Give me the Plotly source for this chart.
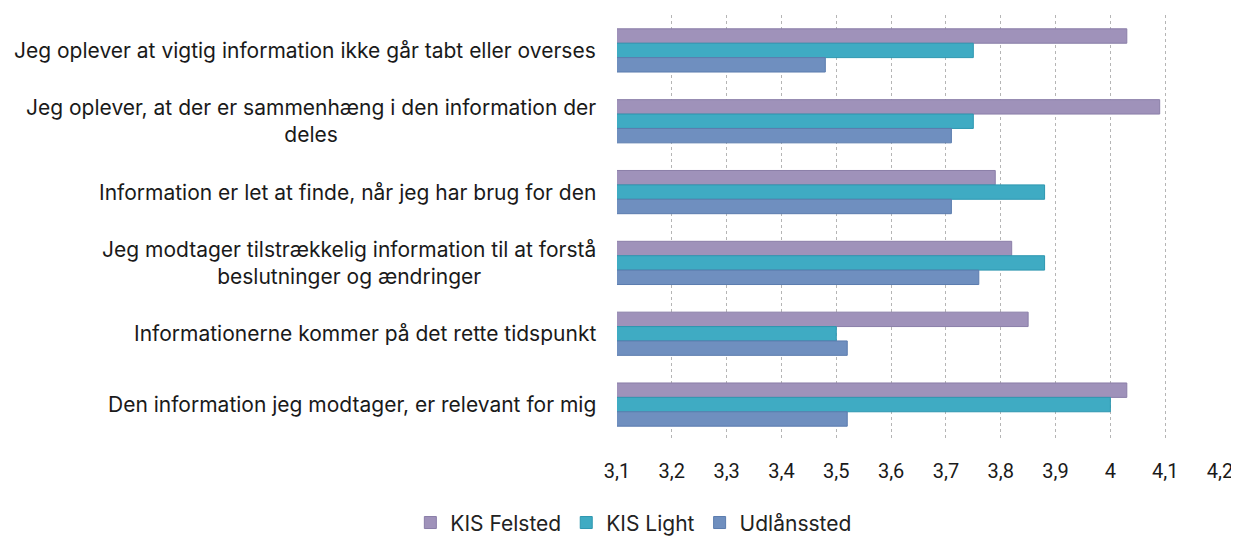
import plotly.graph_objects as go

categories = [
    "Jeg oplever at vigtig information ikke går tabt eller overses",
    "Jeg oplever, at der er sammenhæng i den information der<br>deles",
    "Information er let at finde, når jeg har brug for den",
    "Jeg modtager tilstrækkelig information til at forstå<br>beslutninger og ændringer",
    "Informationerne kommer på det rette tidspunkt",
    "Den information jeg modtager, er relevant for mig",
]
series_names = ["KIS Felsted", "KIS Light", "Udlånssted"]
kis_felsted = [4.03, 4.09, 3.79, 3.82, 3.85, 4.03]
kis_light = [3.75, 3.75, 3.88, 3.88, 3.50, 4.00]
udlaanssted = [3.48, 3.71, 3.71, 3.76, 3.52, 3.52]
tick_vals = [3.1, 3.2, 3.3, 3.4, 3.5, 3.6, 3.7, 3.8, 3.9, 4.0, 4.1, 4.2]

colors = ["#9f92ba", "#3fabc3", "#6f8fbf"]
edges = ["#8a7ea8", "#2e97b0", "#5b7cae"]
values = [kis_felsted, kis_light, udlaanssted]

fig = go.Figure()
for name, vals, c, e in zip(series_names, values, colors, edges):
    fig.add_trace(go.Bar(
        y=categories, x=vals, name=name, orientation="h",
        marker=dict(color=c, line=dict(color=e, width=1)),
    ))

for cat in categories:
    fig.add_annotation(
        x=-0.031, xref="paper", y=cat, yref="y", text=cat,
        showarrow=False, xanchor="right", yanchor="middle", align="center",
        font=dict(family="Inter", size=21, color="#1a1a1a"),
    )

fig.update_layout(
    width=1231, height=528,
    paper_bgcolor="white", plot_bgcolor="white",
    margin=dict(l=609, r=19, t=7, b=96, autoexpand=False),
    barmode="group", bargap=0.39, bargroupgap=0,
    separators=", ",
    showlegend=True,
    legend=dict(
        orientation="h", xref="container", yref="paper",
        x=0.508, xanchor="center", y=-0.195, yanchor="middle",
        font=dict(family="Inter", size=21, color="#222"),
        itemwidth=30, traceorder="normal",
    ),
    xaxis=dict(
        range=[3.1, 4.2], tickvals=tick_vals, showgrid=True,
        gridcolor="#b5b5b5", griddash="dot", gridwidth=1,
        zeroline=False, showline=False, automargin=False,
        tickfont=dict(family="Roboto", size=20, color="#1a1a1a"),
        ticklabelstandoff=17,
    ),
    yaxis=dict(
        autorange="reversed", showticklabels=False, showgrid=False,
        zeroline=False, showline=False, automargin=False,
    ),
)

fig.write_html("out.html")
